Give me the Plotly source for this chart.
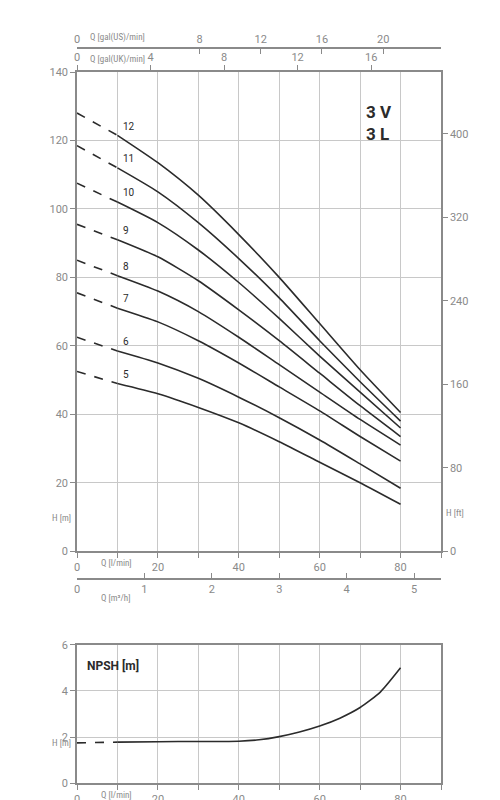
import plotly.graph_objects as go

# Q in l/min, H in m
q_dash = [0, 10]
q_solid = [10, 20, 30, 40, 50, 60, 70, 80]
stages = ["12", "11", "10", "9", "8", "7", "6", "5"]
h_start = [128, 118.5, 107.5, 95.5, 85, 75.5, 62.5, 52.5]
h_curves = [
    [121.5, 113.5, 104, 92.5, 80, 66.5, 53, 40.5],
    [112, 105, 96, 85.5, 74, 61.5, 49.5, 38],
    [102, 96, 88, 78.5, 68, 57, 46.5, 36],
    [91, 86, 79, 70.5, 61.5, 52, 42.5, 33.5],
    [80.5, 76, 70, 62.5, 54.5, 46.5, 38.5, 31],
    [71, 67, 61.5, 55, 48, 41, 33.5, 26.3],
    [58.5, 55, 50.5, 45, 39, 32.5, 25.5, 18.4],
    [49, 46, 42, 37.5, 32, 26, 20, 13.7],
]
npsh_q = [10, 20, 30, 40, 45, 50, 55, 60, 65, 70, 75, 80]
npsh_h = [1.78, 1.8, 1.81, 1.82, 1.88, 2.02, 2.22, 2.48, 2.82, 3.28, 3.95, 5.0]
npsh_dash = [1.75, 1.78]

grey = "#8a8a8a"
dark = "#2b2b2b"
font = dict(family="Roboto", size=11, color=grey)

fig = go.Figure()
for name, h0, hs in zip(stages, h_start, h_curves):
    fig.add_trace(go.Scatter(x=q_dash, y=[h0, hs[0]], mode="lines",
                             line=dict(color=dark, width=1.6, dash="dash"), xaxis="x", yaxis="y"))
    fig.add_trace(go.Scatter(x=q_solid, y=hs, mode="lines", line_shape="spline",
                             line=dict(color=dark, width=1.6, smoothing=0.6), xaxis="x", yaxis="y"))
    fig.add_annotation(x=11, y=hs[0] + 0.5, text=name, showarrow=False, xanchor="left", yanchor="bottom",
                       font=dict(family="Roboto", size=10, color=dark), xref="x", yref="y")

fig.add_trace(go.Scatter(x=q_dash, y=npsh_dash, mode="lines",
                         line=dict(color=dark, width=1.6, dash="dash"), xaxis="x5", yaxis="y3"))
fig.add_trace(go.Scatter(x=npsh_q, y=npsh_h, mode="lines", line_shape="spline",
                         line=dict(color=dark, width=1.6, smoothing=0.6), xaxis="x5", yaxis="y3"))

# empty traces so the extra unit axes are drawn
for xa, ya in [("x2", "y"), ("x3", "y"), ("x4", "y"), ("x", "y2")]:
    fig.add_trace(go.Scatter(x=[0], y=[0], mode="markers", marker=dict(opacity=0),
                             xaxis=xa, yaxis=ya, hoverinfo="skip"))

xd = [0.138, 0.866]
axis_common = dict(showline=True, linecolor=grey, linewidth=1.5, tickcolor=grey, ticklen=5,
                   tickfont=font, zeroline=False, automargin=False)
tv = list(range(0, 91, 10))
tt = [str(v) if v % 20 == 0 and v < 90 else "" for v in tv]

fig.update_layout(
    width=500, height=800, margin=dict(l=0, r=0, t=0, b=0, autoexpand=False),
    plot_bgcolor="white", paper_bgcolor="white", showlegend=False, font=font,
    xaxis=dict(domain=xd, range=[0, 90], anchor="y", tickvals=tv, ticktext=tt, ticks="outside",
               showgrid=True, gridcolor="#c8c8c8", gridwidth=1, mirror=True, **axis_common),
    yaxis=dict(domain=[0.321, 0.92], range=[0, 140], dtick=20, anchor="x", ticks="outside",
               showgrid=True, gridcolor="#c8c8c8", mirror=True, **axis_common),
    xaxis2=dict(range=[0, 90 / 3.785], overlaying="x", anchor="free", position=0.95, side="top",
                tickvals=[0, 8, 12, 16, 20], ticks="inside", showgrid=False, **axis_common),
    xaxis3=dict(range=[0, 90 / 4.546], overlaying="x", anchor="y", side="top",
                tickvals=[0, 4, 8, 12, 16], ticks="outside", showgrid=False, **axis_common),
    xaxis4=dict(range=[0, 5.4], overlaying="x", anchor="free", position=0.286, side="bottom",
                tickvals=[0, 1, 2, 3, 4, 5], ticks="inside", showgrid=False, **axis_common),
    yaxis2=dict(range=[0, 140 * 3.2808], overlaying="y", anchor="x", side="right",
                tickvals=[0, 80, 160, 240, 320, 400], ticks="outside", showgrid=False, **axis_common),
    xaxis5=dict(domain=xd, range=[0, 90], anchor="y3", tickvals=tv, ticktext=tt, ticks="outside",
                showgrid=True, gridcolor="#c8c8c8", mirror=True, **axis_common),
    yaxis3=dict(domain=[0.031, 0.204], range=[0, 6], dtick=2, anchor="x5", ticks="outside",
                showgrid=True, gridcolor="#c8c8c8", mirror=True, **axis_common),
)

small = dict(family="Roboto Condensed, Roboto", size=9, color=grey)
for txt, x, y in [("Q [gal(US)/min]", 0.16, 0.963), ("Q [gal(UK)/min]", 0.16, 0.935),
                  ("Q [l/min]", 0.182, 0.306), ("Q [m³/h]", 0.182, 0.262),
                  ("Q [l/min]", 0.182, 0.016)]:
    fig.add_annotation(x=x, y=y, xref="paper", yref="paper", text=txt, showarrow=False,
                       xanchor="left", yanchor="middle", font=small)
fig.add_annotation(x=0.13, y=0.362, xref="paper", yref="paper", text="H [m]", showarrow=False,
                   xanchor="right", font=small)
fig.add_annotation(x=0.13, y=0.073, xref="paper", yref="paper", text="H [m]", showarrow=False,
                   xanchor="right", font=small)
fig.add_annotation(x=0.872, y=0.369, xref="paper", yref="paper", text="H [ft]", showarrow=False,
                   xanchor="left", font=small)
fig.add_annotation(x=71, y=125, xref="x", yref="y", text="<b>3 V<br>3 L</b>", showarrow=False,
                   xanchor="left", align="left", font=dict(family="Roboto", size=17, color=dark))
fig.add_annotation(x=2, y=5.5, xref="x5", yref="y3", text="<b>NPSH [m]</b>", showarrow=False,
                   xanchor="left", yanchor="top", font=dict(family="Roboto", size=12, color=dark))

fig.write_html("out.html")
